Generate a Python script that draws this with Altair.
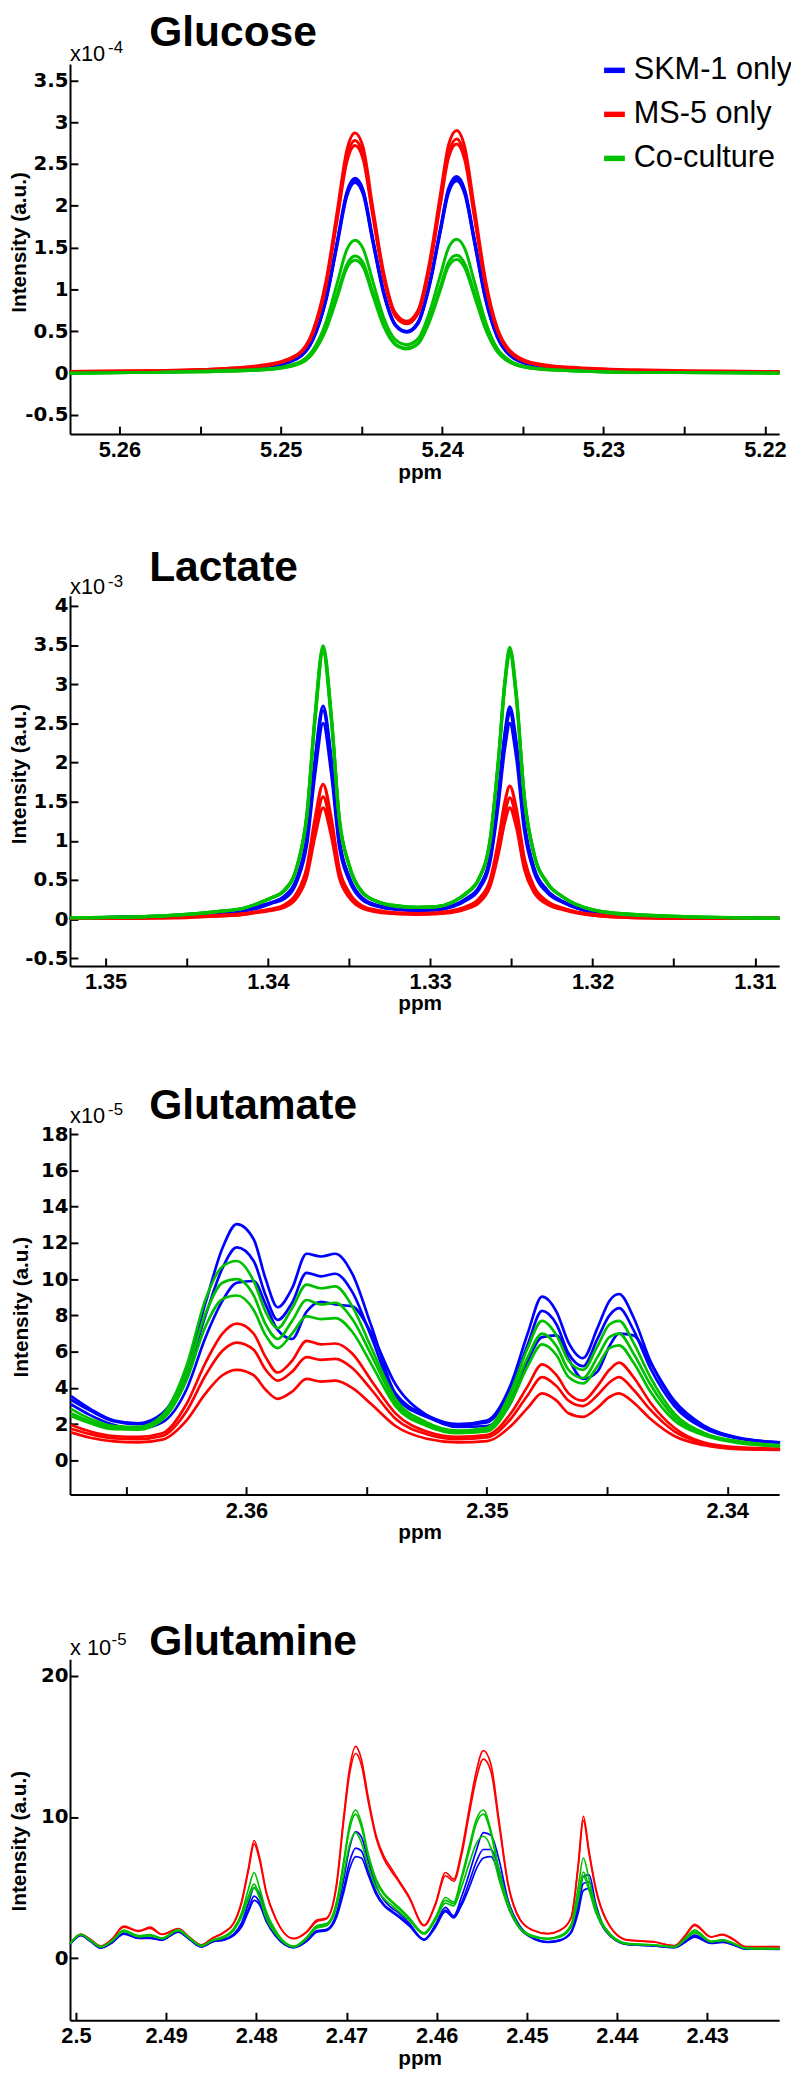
import altair as alt
import pandas as pd

GROUPS = ["SKM-1 only", "MS-5 only", "Co-culture"]
COLORS = ["#0000FF", "#FF0000", "#00C000"]

PLOT_W = 717
PLOT_H = 1978

# ---------------- Glucose (x1e-4) ----------------
glc_ppm = [5.2631, 5.2580, 5.2540, 5.2510, 5.2490, 5.2480, 5.2472, 5.2465, 5.2459, 5.2454,
           5.2449, 5.2443, 5.2436, 5.2429, 5.2422, 5.2415, 5.2408, 5.2401, 5.2396, 5.2391,
           5.2386, 5.2380, 5.2373, 5.2366, 5.2358, 5.2345, 5.2320, 5.2280, 5.2191]
glc_skm_1 = [0.01, 0.02, 0.04, 0.07, 0.18, 0.41, 0.89, 1.58, 2.17, 2.33, 2.19, 1.61, 0.96, 0.58, 0.50, 0.61, 1.06, 1.74, 2.21, 2.35, 2.19, 1.60, 0.89, 0.45, 0.22, 0.10, 0.05, 0.02, 0.01]
glc_skm_2 = [0.01, 0.02, 0.04, 0.07, 0.18, 0.41, 0.88, 1.56, 2.15, 2.31, 2.17, 1.59, 0.95, 0.58, 0.50, 0.60, 1.05, 1.72, 2.19, 2.33, 2.17, 1.58, 0.89, 0.44, 0.22, 0.10, 0.05, 0.02, 0.01]
glc_skm_3 = [0.01, 0.02, 0.04, 0.07, 0.17, 0.40, 0.87, 1.54, 2.12, 2.28, 2.14, 1.57, 0.93, 0.57, 0.49, 0.59, 1.03, 1.70, 2.16, 2.30, 2.14, 1.56, 0.87, 0.44, 0.21, 0.10, 0.05, 0.02, 0.01]
glc_ms5_1 = [0.02, 0.03, 0.05, 0.10, 0.22, 0.51, 1.10, 1.94, 2.67, 2.87, 2.70, 1.98, 1.18, 0.72, 0.62, 0.75, 1.31, 2.15, 2.73, 2.90, 2.70, 1.97, 1.10, 0.55, 0.27, 0.13, 0.07, 0.04, 0.02]
glc_ms5_2 = [0.02, 0.03, 0.05, 0.09, 0.21, 0.49, 1.06, 1.88, 2.59, 2.78, 2.61, 1.92, 1.14, 0.70, 0.60, 0.73, 1.26, 2.07, 2.63, 2.80, 2.60, 1.90, 1.06, 0.53, 0.26, 0.12, 0.06, 0.03, 0.01]
glc_ms5_3 = [0.01, 0.02, 0.04, 0.09, 0.21, 0.48, 1.04, 1.84, 2.53, 2.72, 2.56, 1.88, 1.12, 0.68, 0.59, 0.71, 1.23, 2.03, 2.58, 2.74, 2.55, 1.86, 1.04, 0.52, 0.25, 0.12, 0.05, 0.03, 0.01]
glc_co_1 = [0.00, 0.01, 0.03, 0.05, 0.12, 0.28, 0.61, 1.08, 1.48, 1.59, 1.49, 1.10, 0.65, 0.40, 0.34, 0.41, 0.72, 1.18, 1.50, 1.60, 1.49, 1.09, 0.61, 0.30, 0.15, 0.07, 0.03, 0.01, 0.00]
glc_co_2 = [0.00, 0.01, 0.02, 0.04, 0.11, 0.25, 0.54, 0.95, 1.30, 1.40, 1.32, 0.97, 0.57, 0.35, 0.30, 0.36, 0.63, 1.04, 1.33, 1.41, 1.31, 0.96, 0.54, 0.27, 0.13, 0.06, 0.03, 0.01, 0.00]
glc_co_3 = [0.00, 0.01, 0.02, 0.04, 0.10, 0.24, 0.52, 0.91, 1.26, 1.35, 1.27, 0.93, 0.55, 0.34, 0.29, 0.35, 0.61, 1.00, 1.28, 1.36, 1.26, 0.92, 0.52, 0.26, 0.13, 0.06, 0.03, 0.01, 0.00]

# ---------------- Lactate (x1e-3) ----------------
lac_ppm = [1.3522, 1.3480, 1.3450, 1.3430, 1.3415, 1.3405, 1.3398, 1.3390, 1.3382, 1.3376,
           1.3371, 1.3366, 1.3361, 1.3356, 1.3350, 1.3342, 1.3332, 1.3320, 1.3308, 1.3296,
           1.3286, 1.3278, 1.3270, 1.3263, 1.3258, 1.3254, 1.3251, 1.3247, 1.3242, 1.3236,
           1.3228, 1.3218, 1.3200, 1.3175, 1.3140, 1.3085]
lac_skm_1 = [0.01, 0.03, 0.05, 0.08, 0.11, 0.17, 0.21, 0.29, 0.53, 1.05, 2.03, 2.72, 2.04, 1.01, 0.54, 0.27, 0.17, 0.13, 0.12,
             0.12, 0.17, 0.26, 0.41, 0.81, 1.60, 2.38, 2.71, 2.25, 1.22, 0.65, 0.37, 0.22, 0.09, 0.04, 0.02, 0.01]
lac_skm_2 = [0.01, 0.03, 0.05, 0.07, 0.11, 0.16, 0.21, 0.28, 0.52, 1.02, 1.98, 2.66, 2.00, 0.98, 0.53, 0.27, 0.17, 0.13, 0.11,
             0.12, 0.17, 0.25, 0.40, 0.79, 1.56, 2.32, 2.64, 2.19, 1.19, 0.63, 0.36, 0.22, 0.09, 0.04, 0.02, 0.01]
lac_skm_3 = [0.01, 0.03, 0.04, 0.07, 0.10, 0.15, 0.20, 0.26, 0.49, 0.96, 1.86, 2.50, 1.88, 0.93, 0.50, 0.25, 0.16, 0.12, 0.11,
             0.12, 0.16, 0.24, 0.38, 0.75, 1.48, 2.20, 2.50, 2.08, 1.13, 0.60, 0.34, 0.21, 0.09, 0.04, 0.02, 0.01]
lac_ms5_1 = [0.01, 0.02, 0.03, 0.05, 0.07, 0.10, 0.13, 0.18, 0.34, 0.66, 1.28, 1.72, 1.29, 0.64, 0.34, 0.17, 0.11, 0.08, 0.07,
             0.08, 0.11, 0.16, 0.26, 0.51, 1.00, 1.50, 1.70, 1.41, 0.77, 0.41, 0.23, 0.14, 0.06, 0.03, 0.01, 0.01]
lac_ms5_2 = [0.01, 0.02, 0.03, 0.04, 0.06, 0.10, 0.12, 0.16, 0.31, 0.60, 1.16, 1.56, 1.17, 0.58, 0.31, 0.16, 0.10, 0.07, 0.07,
             0.07, 0.10, 0.15, 0.23, 0.47, 0.91, 1.36, 1.55, 1.29, 0.70, 0.37, 0.21, 0.13, 0.05, 0.02, 0.01, 0.01]
lac_ms5_3 = [0.01, 0.01, 0.02, 0.04, 0.06, 0.09, 0.11, 0.15, 0.28, 0.55, 1.06, 1.42, 1.07, 0.53, 0.28, 0.14, 0.09, 0.07, 0.06,
             0.07, 0.09, 0.13, 0.21, 0.43, 0.84, 1.25, 1.42, 1.18, 0.64, 0.34, 0.19, 0.12, 0.05, 0.02, 0.01, 0.01]
lac_co_1 = [0.02, 0.03, 0.06, 0.10, 0.14, 0.21, 0.27, 0.37, 0.68, 1.34, 2.60, 3.49, 2.62, 1.29, 0.70, 0.35, 0.22, 0.17, 0.15,
            0.16, 0.22, 0.33, 0.52, 1.04, 2.05, 3.05, 3.47, 2.88, 1.56, 0.83, 0.47, 0.28, 0.12, 0.06, 0.03, 0.01]
lac_co_2 = [0.02, 0.03, 0.06, 0.10, 0.14, 0.21, 0.27, 0.36, 0.68, 1.33, 2.57, 3.45, 2.59, 1.28, 0.69, 0.35, 0.22, 0.17, 0.15,
            0.16, 0.22, 0.33, 0.52, 1.03, 2.03, 3.03, 3.44, 2.86, 1.55, 0.83, 0.46, 0.28, 0.12, 0.06, 0.03, 0.01]
lac_co_3 = [0.02, 0.03, 0.06, 0.10, 0.14, 0.21, 0.27, 0.36, 0.67, 1.31, 2.53, 3.40, 2.55, 1.26, 0.68, 0.34, 0.22, 0.16, 0.15,
            0.16, 0.22, 0.32, 0.51, 1.02, 2.01, 2.99, 3.40, 2.82, 1.53, 0.82, 0.46, 0.28, 0.12, 0.05, 0.03, 0.01]

# ---------------- Glutamate (x1e-5) ----------------
glu_ppm = [2.3673, 2.3665, 2.3655, 2.3645, 2.3635, 2.3625, 2.3617, 2.3610, 2.3604, 2.3597,
           2.3592, 2.3587, 2.3581, 2.3575, 2.3569, 2.3563, 2.3556, 2.3548, 2.3538, 2.3525,
           2.3512, 2.3500, 2.3490, 2.3483, 2.3477, 2.3471, 2.3466, 2.3460, 2.3454, 2.3449,
           2.3445, 2.3439, 2.3432, 2.3422, 2.3410, 2.3395, 2.3378]
glu_skm_1 = [3.55, 2.85, 2.2, 2.05, 2.6, 5.0, 8.7, 11.7, 13.04, 12.2, 10.0, 8.45, 9.5, 11.4, 11.25, 11.4, 10.3, 7.4, 3.7, 2.5,
             2.0, 2.2, 4.2, 7.0, 9.04, 8.2, 6.5, 5.64, 7.3, 8.8, 9.18, 7.9, 5.5, 3.2, 1.9, 1.24, 1.0]
glu_skm_2 = [3.35, 2.75, 2.15, 2.0, 2.55, 4.7, 8.0, 10.6, 11.75, 11.0, 9.1, 7.75, 8.7, 10.35, 10.15, 10.3, 9.3, 6.8, 3.5, 2.4,
             1.95, 2.1, 3.9, 6.4, 8.25, 7.5, 5.9, 5.2, 6.7, 8.0, 8.4, 7.2, 5.1, 3.0, 1.8, 1.2, 0.98]
glu_skm_3 = [3.1, 2.5, 1.95, 1.75, 2.1, 3.9, 6.8, 8.8, 9.8, 9.9, 8.6, 7.2, 6.7, 8.2, 8.75, 8.6, 8.5, 7.0, 4.2, 2.5,
             1.85, 1.9, 3.2, 5.5, 6.8, 6.9, 5.6, 4.5, 4.9, 6.3, 7.0, 6.9, 5.4, 3.3, 1.95, 1.25, 1.0]
glu_ms5_1 = [1.95, 1.6, 1.35, 1.3, 1.5, 3.1, 5.4, 7.0, 7.55, 7.0, 5.7, 4.85, 5.5, 6.6, 6.4, 6.45, 5.9, 4.4, 2.6, 1.6,
             1.3, 1.4, 2.6, 4.1, 5.3, 4.7, 3.7, 3.3, 4.1, 5.0, 5.4, 4.6, 3.2, 1.8, 1.0, 0.72, 0.65]
glu_ms5_2 = [1.75, 1.45, 1.22, 1.18, 1.35, 2.7, 4.7, 6.05, 6.5, 6.1, 5.0, 4.4, 4.9, 5.7, 5.55, 5.6, 5.1, 3.9, 2.3, 1.45,
             1.18, 1.27, 2.3, 3.6, 4.6, 4.1, 3.3, 3.0, 3.6, 4.3, 4.6, 3.9, 2.8, 1.6, 0.95, 0.68, 0.62]
glu_ms5_3 = [1.55, 1.25, 1.05, 1.0, 1.15, 2.2, 3.7, 4.7, 5.0, 4.7, 3.9, 3.4, 3.8, 4.5, 4.35, 4.4, 4.0, 3.1, 1.9, 1.2,
             1.0, 1.07, 1.9, 2.9, 3.7, 3.3, 2.6, 2.4, 2.9, 3.5, 3.7, 3.2, 2.3, 1.35, 0.85, 0.62, 0.58]
glu_co_1 = [2.85, 2.3, 1.9, 1.85, 2.5, 5.2, 8.9, 10.7, 11.0, 9.9, 8.2, 7.3, 8.4, 9.7, 9.5, 9.6, 8.5, 6.2, 3.4, 2.1,
            1.65, 1.8, 3.8, 6.2, 7.7, 6.9, 5.5, 5.0, 6.3, 7.5, 7.7, 6.5, 4.6, 2.6, 1.55, 1.05, 0.85]
glu_co_2 = [2.6, 2.15, 1.8, 1.75, 2.35, 4.8, 8.1, 9.8, 10.0, 9.1, 7.5, 6.7, 7.7, 8.85, 8.6, 8.7, 7.8, 5.8, 3.2, 2.0,
            1.55, 1.7, 3.5, 5.7, 7.0, 6.3, 5.0, 4.55, 5.7, 6.8, 7.0, 5.9, 4.2, 2.4, 1.45, 1.0, 0.8]
glu_co_3 = [2.45, 2.05, 1.72, 1.7, 2.25, 4.4, 7.4, 8.9, 9.1, 8.3, 6.9, 6.2, 7.0, 7.95, 7.8, 7.85, 7.1, 5.3, 3.0, 1.9,
            1.5, 1.6, 3.2, 5.2, 6.4, 5.8, 4.6, 4.25, 5.2, 6.2, 6.35, 5.4, 3.8, 2.2, 1.4, 0.95, 0.78]

# ---------------- Glutamine (x1e-5) ----------------
gln_ppm = [2.50066, 2.49945, 2.49843, 2.49726, 2.49602, 2.49470, 2.49305, 2.49177, 2.49049, 2.48866,
           2.48734, 2.48610, 2.48482, 2.48361, 2.48251, 2.48164, 2.48087, 2.48024, 2.47966, 2.47889,
           2.47790, 2.47585, 2.47439, 2.47329, 2.47220, 2.47110, 2.47033, 2.46967, 2.46898, 2.46835,
           2.46759, 2.46671, 2.46583, 2.46506, 2.46418, 2.46308, 2.46140, 2.46012, 2.45902, 2.45811,
           2.45727, 2.45639, 2.45562, 2.45482, 2.45397, 2.45309, 2.45211, 2.45079, 2.44936, 2.44768,
           2.44629, 2.44508, 2.44431, 2.44373, 2.44310, 2.44233, 2.44124, 2.43890, 2.43597, 2.43359,
           2.43246, 2.43139, 2.42957, 2.42829, 2.42719, 2.42573, 2.42195]
gln_skm_1 = [1.0, 1.65, 1.25, 0.76, 1.12, 1.78, 1.45, 1.45, 1.32, 1.9, 1.32, 0.84, 1.2, 1.35, 1.7, 2.5, 3.9, 5.0, 4.6, 3.0,
             1.8, 0.78, 1.3, 1.95, 2.05, 3.2, 5.5, 7.8, 8.95, 8.6, 6.9, 5.1, 4.1, 3.6, 3.2, 2.5, 1.35, 2.4, 3.6, 3.0,
             4.3, 6.0, 7.6, 8.9, 8.7, 7.0, 4.2, 2.3, 1.5, 1.17, 1.3, 1.9, 3.8, 5.8, 5.9, 3.8, 2.0, 1.0, 0.9, 0.78,
             1.2, 1.64, 1.1, 1.2, 1.0, 0.68, 0.65]
gln_skm_2 = [0.98, 1.63, 1.22, 0.74, 1.1, 1.74, 1.42, 1.42, 1.3, 1.87, 1.3, 0.82, 1.18, 1.3, 1.65, 2.3, 3.5, 4.4, 4.0, 2.7,
             1.65, 0.75, 1.25, 1.9, 2.0, 3.0, 4.9, 6.8, 7.8, 7.6, 6.2, 4.7, 3.8, 3.4, 3.0, 2.4, 1.3, 2.3, 3.4, 2.9,
             3.9, 5.4, 6.8, 7.7, 7.7, 6.3, 3.9, 2.2, 1.45, 1.15, 1.28, 1.85, 3.5, 5.3, 5.4, 3.5, 1.95, 0.98, 0.88, 0.76,
             1.15, 1.55, 1.08, 1.15, 0.98, 0.66, 0.64]
gln_skm_3 = [0.96, 1.6, 1.2, 0.72, 1.08, 1.7, 1.4, 1.4, 1.28, 1.85, 1.28, 0.8, 1.16, 1.28, 1.6, 2.2, 3.3, 4.1, 3.8, 2.6,
             1.6, 0.75, 1.2, 1.85, 1.95, 2.9, 4.6, 6.3, 7.2, 7.1, 5.9, 4.5, 3.7, 3.3, 2.9, 2.3, 1.28, 2.2, 3.3, 2.85,
             3.7, 5.0, 6.3, 7.1, 7.2, 5.9, 3.7, 2.1, 1.4, 1.12, 1.25, 1.8, 3.2, 4.8, 4.95, 3.3, 1.9, 0.97, 0.87, 0.75,
             1.12, 1.5, 1.05, 1.12, 0.96, 0.65, 0.63]
gln_ms5_1 = [1.05, 1.7, 1.35, 0.85, 1.35, 2.27, 1.95, 2.2, 1.7, 2.1, 1.45, 0.95, 1.45, 1.85, 2.5, 4.0, 6.4, 8.34, 7.2, 4.7,
             2.9, 1.4, 1.9, 2.7, 2.85, 5.3, 9.9, 13.4, 15.0, 14.1, 11.4, 8.7, 7.2, 6.4, 5.5, 4.4, 2.35, 3.9, 6.07, 5.6,
             7.5, 10.6, 13.2, 14.7, 13.7, 9.8, 5.4, 2.8, 2.0, 1.75, 2.0, 2.9, 6.6, 10.05, 7.6, 4.9, 2.8, 1.3, 1.17, 0.9,
             1.6, 2.4, 1.52, 1.7, 1.4, 0.82, 0.82]
gln_ms5_2 = [1.05, 1.7, 1.35, 0.85, 1.33, 2.2, 1.9, 2.12, 1.68, 2.05, 1.42, 0.93, 1.42, 1.8, 2.45, 3.9, 6.2, 8.1, 7.0, 4.6,
             2.85, 1.38, 1.85, 2.6, 2.8, 5.1, 9.6, 13.0, 14.5, 13.7, 11.1, 8.5, 7.0, 6.2, 5.4, 4.3, 2.3, 3.8, 5.84, 5.45,
             7.2, 10.2, 12.7, 14.1, 13.2, 9.5, 5.3, 2.75, 1.98, 1.73, 1.98, 2.85, 6.4, 9.74, 7.4, 4.8, 2.75, 1.28, 1.15, 0.88,
             1.55, 2.3, 1.5, 1.65, 1.35, 0.8, 0.8]
gln_co_1 = [1.05, 1.7, 1.3, 0.82, 1.25, 2.0, 1.6, 1.68, 1.42, 2.02, 1.4, 0.9, 1.3, 1.55, 2.1, 3.2, 4.9, 6.07, 5.0, 3.3,
            2.0, 0.85, 1.5, 2.3, 2.45, 4.0, 6.8, 9.4, 10.5, 9.6, 7.4, 5.6, 4.6, 4.1, 3.6, 2.9, 1.8, 2.9, 4.3, 3.97,
            5.7, 7.9, 9.8, 10.5, 9.0, 6.3, 4.0, 2.2, 1.6, 1.4, 1.6, 2.4, 5.0, 7.1, 5.6, 3.6, 2.1, 1.05, 0.95, 0.82,
            1.4, 2.0, 1.2, 1.3, 1.1, 0.72, 0.68]
gln_co_2 = [1.02, 1.68, 1.28, 0.8, 1.22, 1.92, 1.55, 1.62, 1.4, 1.98, 1.38, 0.88, 1.28, 1.5, 2.0, 3.0, 4.4, 5.25, 4.4, 2.9,
            1.8, 0.82, 1.45, 2.25, 2.4, 3.9, 6.6, 9.1, 10.2, 9.3, 7.2, 5.4, 4.5, 4.0, 3.5, 2.8, 1.75, 2.8, 4.1, 3.85,
            5.5, 7.6, 9.5, 10.2, 8.8, 6.1, 3.9, 2.15, 1.55, 1.38, 1.55, 2.3, 4.4, 6.1, 5.0, 3.3, 2.0, 1.03, 0.93, 0.8,
            1.35, 1.9, 1.18, 1.28, 1.08, 0.7, 0.67]
gln_co_3 = [1.0, 1.66, 1.26, 0.8, 1.2, 1.88, 1.52, 1.58, 1.38, 1.95, 1.36, 0.87, 1.26, 1.45, 1.95, 2.9, 4.2, 5.0, 4.3, 2.8,
            1.75, 0.8, 1.4, 2.15, 2.3, 3.6, 5.9, 8.0, 8.9, 8.2, 6.5, 5.0, 4.2, 3.8, 3.3, 2.7, 1.7, 2.7, 3.9, 3.7,
            5.0, 6.7, 8.1, 8.64, 7.8, 5.6, 3.7, 2.1, 1.5, 1.35, 1.5, 2.2, 4.1, 5.8, 4.8, 3.2, 1.95, 1.0, 0.92, 0.8,
            1.3, 1.8, 1.15, 1.25, 1.05, 0.7, 0.66]

# ---------------- axis ticks / labels ----------------
glc_xlabels = [5.26, 5.25, 5.24, 5.23, 5.22]
glc_xticks = [5.26, 5.255, 5.25, 5.245, 5.24, 5.235, 5.23, 5.225, 5.22]
glc_yticks = [-0.5, 0, 0.5, 1, 1.5, 2, 2.5, 3, 3.5]
lac_xlabels = [1.35, 1.34, 1.33, 1.32, 1.31]
lac_xticks = [1.35, 1.345, 1.34, 1.335, 1.33, 1.325, 1.32, 1.315, 1.31]
lac_yticks = [-0.5, 0, 0.5, 1, 1.5, 2, 2.5, 3, 3.5, 4]
glu_xlabels = [2.36, 2.35, 2.34]
glu_xticks = [2.365, 2.36, 2.355, 2.35, 2.345, 2.34]
glu_yticks = [0, 2, 4, 6, 8, 10, 12, 14, 16, 18]
gln_xlabels = [2.5, 2.49, 2.48, 2.47, 2.46, 2.45, 2.44, 2.43]
gln_yticks = [0, 10, 20]

TITLES = ["Glucose", "Lactate", "Glutamate", "Glutamine"]
EXPONENTS = ["-4", "-3", "-5", "-5"]
Y_TITLE = "Intensity (a.u.)"
X_TITLE = "ppm"


def long_df(ppm, series):
    rows = []
    for group, rep, vals in series:
        assert len(vals) == len(ppm), (rep, len(vals), len(ppm))
        for x, v in zip(ppm, vals):
            rows.append({"ppm": x, "value": v, "group": group, "rep": rep})
    return pd.DataFrame(rows)


def make_df(ppm, skm, ms5, co):
    series = []
    for i, s in enumerate(skm):
        series.append((GROUPS[0], "skm%d" % i, s))
    for i, s in enumerate(ms5):
        series.append((GROUPS[1], "ms5%d" % i, s))
    for i, s in enumerate(co):
        series.append((GROUPS[2], "co%d" % i, s))
    return long_df(ppm, series)


LEGEND = alt.Legend(orient="none", legendX=535, legendY=-9, title=None,
                    symbolType="stroke", symbolSize=441, symbolStrokeWidth=5.5,
                    labelFont="Liberation Sans", labelFontSize=31, labelFontWeight="normal",
                    labelColor="black", rowPadding=12.5, labelOffset=4, padding=0,
                    labelLimit=400)
COLOR = alt.Color("group:N", scale=alt.Scale(domain=GROUPS, range=COLORS), legend=LEGEND)
MINUS_FIX = "replace(datum.label, '\u2212', '-')"


def panel(df, xdom, xlabels, xticks, ydom, yrange, yticks, lw):
    bottom = yrange[0]
    xscale = alt.Scale(domain=xdom, reverse=True, nice=False, zero=False)
    yscale = alt.Scale(domain=ydom, range=yrange, nice=False, zero=False)
    tick_layer = alt.Chart(df).mark_line(opacity=0).encode(
        x=alt.X("ppm:Q", scale=xscale,
                axis=alt.Axis(orient="top", offset=-bottom, values=xticks, labels=False,
                              domain=False, ticks=True, tickSize=8, tickWidth=2,
                              tickColor="black", title=None, grid=False)),
        y=alt.Y("value:Q", scale=yscale,
                axis=alt.Axis(orient="right", offset=-PLOT_W, values=yticks, labels=False,
                              domain=False, ticks=True, tickSize=8, tickWidth=2,
                              tickColor="black", title=None, grid=False)),
        detail="rep:N",
    )
    line_layer = alt.Chart(df).mark_line(interpolate="monotone", strokeWidth=lw).encode(
        x=alt.X("ppm:Q", scale=xscale,
                axis=alt.Axis(orient="bottom", offset=bottom - PLOT_H, values=xlabels,
                              format=".4~g", ticks=False, tickSize=0, labelPadding=23,
                              labelBaseline="alphabetic", labelFont="Liberation Sans",
                              labelFontSize=22, labelFontWeight="bold", labelColor="black",
                              labelFlush=False, labelOverlap=False,
                              domainColor="black", domainWidth=2, grid=False, title=None)),
        y=alt.Y("value:Q", scale=yscale,
                axis=alt.Axis(orient="left", values=yticks, format=".4~g", labelExpr=MINUS_FIX,
                              ticks=False, tickSize=0, labelPadding=2,
                              labelFont="DejaVu Sans", labelFontSize=20, labelFontWeight="bold",
                              labelColor="black", labelFlush=False, labelOverlap=False,
                              domainColor="black", domainWidth=2, grid=False, title=None)),
        color=COLOR,
        detail="rep:N",
    )
    return [tick_layer, line_layer]


ANNOT = pd.DataFrame({"k": [0]})


def note(text, x, y, size, font, weight, angle=0, align="left", baseline="alphabetic"):
    return alt.Chart(ANNOT).mark_text(text=text, font=font, fontSize=size, fontWeight=weight,
                                      align=align, baseline=baseline, angle=angle,
                                      color="black").encode(x=alt.value(x), y=alt.value(y))


glc_df = make_df(glc_ppm, [glc_skm_1, glc_skm_2, glc_skm_3], [glc_ms5_1, glc_ms5_2, glc_ms5_3],
                 [glc_co_1, glc_co_2, glc_co_3])
lac_df = make_df(lac_ppm, [lac_skm_1, lac_skm_2, lac_skm_3], [lac_ms5_1, lac_ms5_2, lac_ms5_3],
                 [lac_co_1, lac_co_2, lac_co_3])
glu_df = make_df(glu_ppm, [glu_skm_1, glu_skm_2, glu_skm_3], [glu_ms5_1, glu_ms5_2, glu_ms5_3],
                 [glu_co_1, glu_co_2, glu_co_3])
gln_df = make_df(gln_ppm, [gln_skm_1, gln_skm_2, gln_skm_3], [gln_ms5_1, gln_ms5_2],
                 [gln_co_1, gln_co_2, gln_co_3])

layers = []
layers += panel(glc_df, [5.21912, 5.26306], glc_xlabels, glc_xticks,
                [-0.728, 3.696], [374.3, 0], glc_yticks, 3.0)
layers += panel(lac_df, [1.30851, 1.35219], lac_xlabels, lac_xticks,
                [-0.597, 4.129], [912, 537.7], lac_yticks, 3.2)
layers += panel(glu_df, [2.33784, 2.36734], glu_xlabels, glu_xticks,
                [-1.88, 18.37], [1446.5, 1075.3], glu_yticks, 2.7)
layers += panel(gln_df, [2.42202, 2.50066], gln_xlabels, gln_xlabels,
                [-4.39, 21.18], [1978, 1613], gln_yticks, 1.7)

TF = "Liberation Sans"
# panel titles
for name, yb in zip(TITLES, [-17.7, 523, 1066.3, 1608.7]):
    layers.append(note(name, 80, yb, 43, TF, "bold"))
# exponent labels
for i, (yb, ys) in enumerate([(-3, -11.3), (536.3, 528.7), (1071.3, 1063), (1608.7, 1598.7)]):
    base = "x 10" if i == 3 else "x10"
    layers.append(note(base, 0, yb, 22, TF, "normal"))
    layers.append(note(EXPONENTS[i], 42 if i == 3 else 38.5, ys, 17, TF, "normal"))
# y-axis titles (rotated)
for xc, yc in [(-50.2, 180.5), (-50.2, 718), (-48.2, 1257), (-50.2, 1797)]:
    layers.append(note(Y_TITLE, xc, yc, 21, TF, "bold", angle=270, align="center", baseline="middle"))
# x-axis titles
for yb in [374.3 + 45, 912 + 45, 1446.5 + 45, 1978 + 45]:
    layers.append(note(X_TITLE, 354, yb, 21, TF, "bold", align="center"))

chart = alt.layer(*layers).resolve_scale(x="independent", y="independent").properties(
    width=PLOT_W, height=PLOT_H,
    autosize=alt.AutoSizeParams(type="none"),
    padding={"left": 62.7, "top": 45, "right": 12, "bottom": 56},
).configure_view(stroke=None).configure_axis(grid=False)

chart.save("out.html", embed_options={"renderer": "svg", "actions": False})
